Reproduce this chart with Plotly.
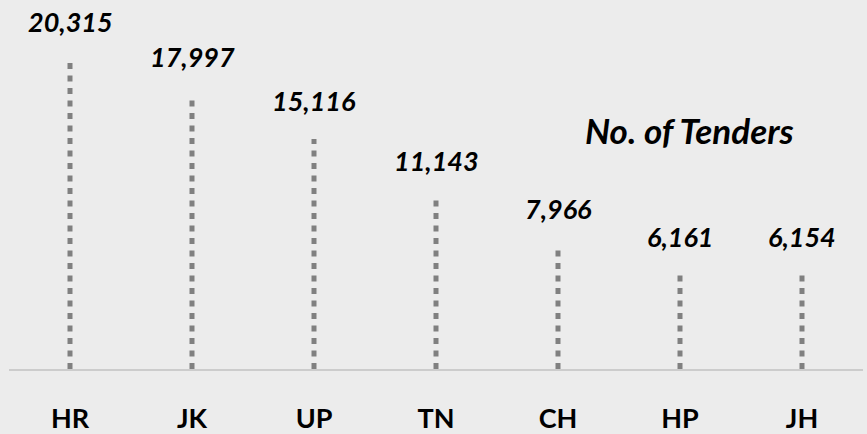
import plotly.graph_objects as go

states = ["HR", "JK", "UP", "TN", "CH", "HP", "JH"]
tenders = [20315, 17997, 15116, 11143, 7966, 6161, 6154]
title_text = "No. of Tenders"

FONT = "Lato, 'Open Sans', sans-serif"

fig = go.Figure()
for s, v in zip(states, tenders):
    fig.add_trace(go.Scatter(
        x=[s, s], y=[0, v], mode="lines",
        line=dict(color="#808080", width=5, dash="6px,6.5px"),
        hoverinfo="skip", showlegend=False,
    ))
    fig.add_annotation(
        x=s, y=v, text=f"<b><i>{v:,}</i></b>", showarrow=False,
        yanchor="middle", yshift=39,
        font=dict(family=FONT, size=27, color="#000000"),
    )

fig.add_annotation(
    x=0.797, y=0.648, xref="paper", yref="paper",
    text=f"<b><i>{title_text}</i></b>", showarrow=False,
    xanchor="center", yanchor="middle",
    font=dict(family=FONT, size=35, color="#000000"),
)

fig.update_layout(
    width=867, height=434,
    margin=dict(l=9, r=4, t=0, b=65),
    paper_bgcolor="#ececec", plot_bgcolor="#ececec",
    xaxis=dict(
        type="category", categoryorder="array", categoryarray=states,
        range=[-0.5, 6.5], showgrid=False, zeroline=False,
        showline=True, linecolor="#cccccc", linewidth=2,
        ticks="", ticklabelstandoff=25,
        tickfont=dict(family=FONT, size=27, color="#000000", weight="bold"),
    ),
    yaxis=dict(range=[0, 24260], visible=False, showgrid=False, zeroline=False),
)

fig.write_html("out.html", config={"displayModeBar": False},
               post_script="document.body.style.margin='0';")
